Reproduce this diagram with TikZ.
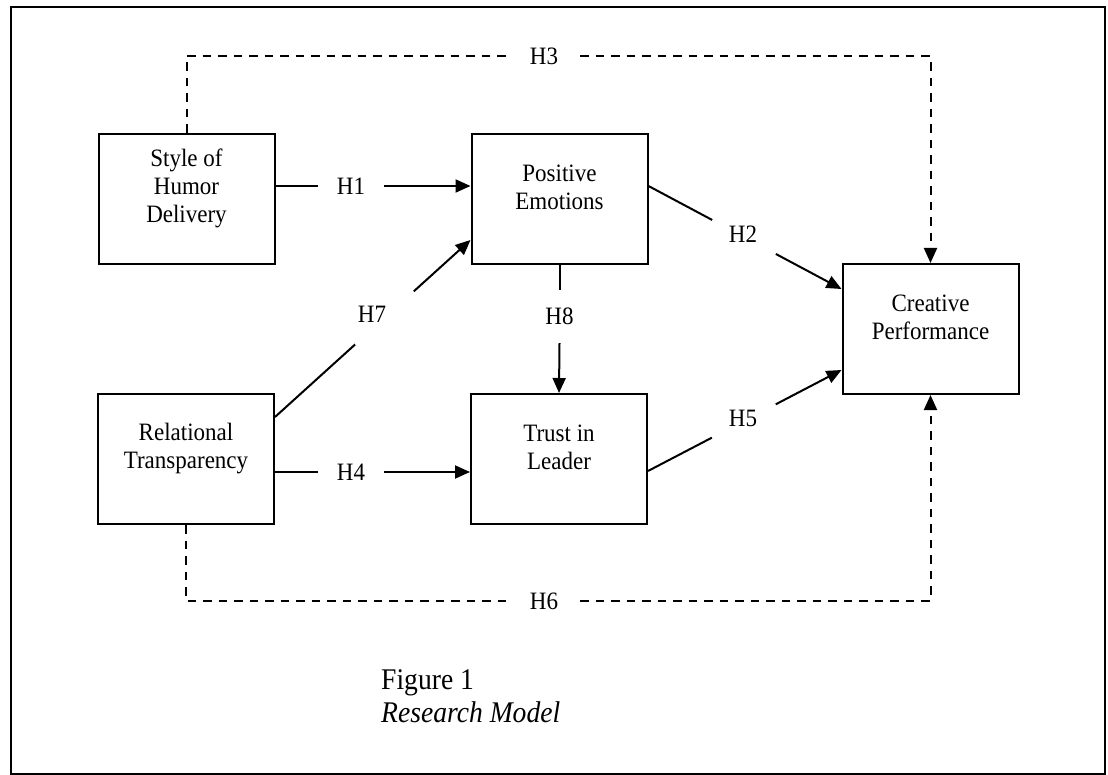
\documentclass[tikz,border=0pt]{standalone}
\usepackage{fontspec}
\setmainfont{Liberation Serif}[FakeStretch=0.92]
\usetikzlibrary{arrows.meta,calc}

\begin{document}
\begin{tikzpicture}[x=1pt,y=-1pt,
  box/.style={draw, line width=2pt, minimum width=176pt, minimum height=130pt, inner sep=0pt},
  txt/.style={font=\fontsize{25}{28}\selectfont, align=center, inner sep=0pt},
  hyp/.style={font=\fontsize{25}{28}\selectfont, inner sep=0pt},
  link/.style={line width=2pt},
  arr/.style={-{Triangle[length=15pt,width=13pt]}},
  dsh/.style={line width=2pt, dash pattern=on 8.5pt off 7pt},
]
\useasboundingbox (0,0) rectangle (1108,775);
% outer frame
\draw[line width=2.5pt] (11,7) rectangle (1105,774);

% constructs
\node[box] (sh) at (186.5,199) {};
\node[txt] (shT) at (186.5,188) {Style of\\Humor\\Delivery};
\node[box] (pe) at (559.5,199) {};
\node[txt] (peT) at (559.5,187) {Positive\\Emotions};
\node[box] (rt) at (186,459) {};
\node[txt] (rtT) at (186,449) {Relational\\Transparency};
\node[box] (tl) at (559,459) {};
\node[txt] (tlT) at (559,447.5) {Trust in\\Leader};
\node[box] (cp) at (930.5,329) {};
\node[txt] (cpT) at (930.5,317.5) {Creative\\Performance};

% hypothesis labels
\node[hyp, minimum width=66pt] (h1) at (351,186) {H1};
\node[hyp, minimum width=66pt] (h4) at (351,472) {H4};
\node[hyp, minimum width=72pt] (h3) at (544,56) {H3};
\node[hyp, minimum width=72pt] (h6) at (544,601) {H6};
\node[hyp, minimum height=53pt] (h8) at (559.5,316.5) {H8};
\node[hyp] (h7) at (372,314) {H7};
\node[hyp] (h2) at (743,234) {H2};
\node[hyp] (h5) at (743,418) {H5};

% straight paths
\draw[link] (sh.east |- h1) -- (h1.west);
\draw[link,arr] (h1.east) -- (pe.west |- h1);
\draw[link] (rt.east |- h4) -- (h4.west);
\draw[link,arr] (h4.east) -- (tl.west |- h4);
\draw[link] (pe.south) -- (h8.north);
\draw[link,arr] (h8.south) -- (tl.north);

% diagonal paths
\coordinate (a7) at ($(rt.north east)+(0,24)$);
\coordinate (b7) at ($(pe.south west)+(0,-25)$);
\draw[link] (a7) -- ($(a7)!0.41!(b7)$);
\draw[link,arr] ($(a7)!0.71!(b7)$) -- (b7);

\coordinate (a2) at ($(pe.north east)+(0,53)$);
\coordinate (b2) at ($(cp.north west)+(0,26)$);
\draw[link] (a2) -- ($(a2)!0.33!(b2)$);
\draw[link,arr] ($(a2)!0.66!(b2)$) -- (b2);

\coordinate (a5) at ($(tl.north east)+(0,78)$);
\coordinate (b5) at ($(cp.south west)+(0,-25)$);
\draw[link] (a5) -- ($(a5)!0.33!(b5)$);
\draw[link,arr] ($(a5)!0.66!(b5)$) -- (b5);

% direct effects (dashed)
\draw[dsh] (sh.north) |- (h3.west);
\draw[dsh,arr] (h3.east) -| (cp.north);
\draw[dsh] (rt.south) |- (h6.west);
\draw[dsh,arr] (h6.east) -| (cp.south);

% caption
\node[font=\fontsize{30}{33}\selectfont, align=left, anchor=base west, inner sep=0pt] (cap)
  at (381,722) {Figure 1\\\textit{Research Model}};
\end{tikzpicture}
\end{document}
